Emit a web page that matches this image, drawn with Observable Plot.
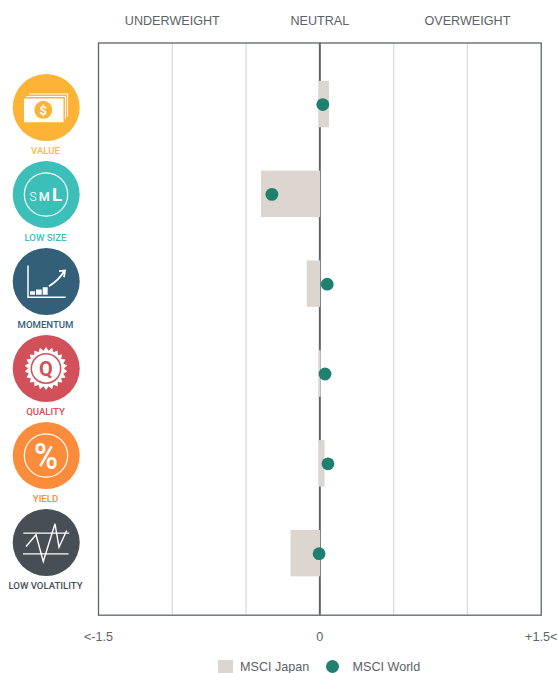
<!DOCTYPE html>
<html><head><meta charset="utf-8">
<script src="https://cdn.jsdelivr.net/npm/d3@7"></script>
<script src="https://cdn.jsdelivr.net/npm/@observablehq/plot@0.6"></script>
<style>
html,body{margin:0;padding:0;background:#fff;overflow:hidden}
#wrap{position:relative;width:558px;height:673px;font-family:"Liberation Sans",Arial,sans-serif;color:#5c6266}
#wrap svg{position:absolute;left:0;top:0;background:transparent}
#legend{position:absolute;left:0;top:658px;width:558px;height:15px;font-size:12.6px;line-height:18px;overflow:hidden}
#legend span{position:absolute;top:0}
#legend i{position:absolute;display:block}
</style></head><body>
<div id="wrap"><div id="main"></div><div id="icons"></div>
<div id="legend">
<i style="left:218px;top:2px;width:15px;height:15px;background:#dcd5d0"></i><span style="left:240px">MSCI Japan</span>
<i style="left:326px;top:2px;width:13px;height:13px;border-radius:50%;background:#1f8070"></i><span style="left:352.5px">MSCI World</span>
</div></div>
<script>
const factors = ["VALUE","LOW SIZE","MOMENTUM","QUALITY","YIELD","LOW VOLATILITY"];
const japan = [0.06,-0.39,-0.08,0.004,0.03,-0.19];
const world = [0.02,-0.325,0.05,0.035,0.055,-0.005];
const iconColors = ["#fdb335","#3cbfb9","#345f79","#d1505a","#fb8c3b","#474e55"];
const labelColors = ["#fdb94c","#3cbfb9","#345f79","#d1505a","#fb8c3b","#474e55"];
const gridTicks = [-1,-0.5,0.5,1];
const topTicks = new Map([[-1,"UNDERWEIGHT"],[0,"NEUTRAL"],[1,"OVERWEIGHT"]]);
const bottomTicks = new Map([[-1.5,"<-1.5"],[0,"0"],[1.5,"+1.5<"]]);

const rows = factors.map((f,i)=>({f,japan:japan[i],world:world[i]}));

const main = Plot.plot({
  width:558,height:673,
  marginLeft:98,marginRight:17.3,marginTop:42.5,marginBottom:58.3,
  style:{background:"transparent",fontFamily:"'Liberation Sans',Arial,sans-serif",fontSize:"12.6px",color:"#5c6266"},
  x:{domain:[-1.5,1.5]},
  y:{type:"band",domain:factors,paddingInner:0.5,paddingOuter:0.435,round:false},
  marks:[
    Plot.ruleX(gridTicks,{stroke:"#dcdcdc",strokeWidth:1.3}),
    Plot.ruleX([0],{stroke:"#5d6468",strokeWidth:2}),
    Plot.barX(rows,{x1:()=>0,x2:"japan",y:"f",fill:"#dcd5d0",stroke:"#dcd5d0",strokeWidth:1.5}),
    Plot.ruleX(rows.filter(d=>d.japan>=0),{x:()=>0,y:"f",stroke:"#b9b9b7",strokeWidth:1.3,dx:-0.3}),
    Plot.ruleX(rows.filter(d=>d.japan<0),{x:()=>0,y:"f",stroke:"#b9b9b7",strokeWidth:1.3,dx:0.8}),
    Plot.dot(rows,{x:"world",y:"f",r:6.4,fill:"#1f8070"}),
    Plot.frame({stroke:"#5d6468",strokeWidth:1.3}),
    Plot.axisX([-1,0,1],{anchor:"top",tickSize:0,tickPadding:18.5,tickFormat:d=>topTicks.get(d),label:null,fontSize:12.6,fill:"#5c6266"}),
    Plot.axisX([-1.5,0,1.5],{anchor:"bottom",tickSize:0,tickPadding:16.5,tickFormat:d=>bottomTicks.get(d),label:null,fontSize:12.6,fill:"#5c6266"}),
    Plot.axisY({ticks:[],label:null,tickSize:0})
  ]
});
document.getElementById("main").append(main);

function drawIcon(g,name){
  const W="#fff";
  const P=(d,o={})=>g.append("path").attr("d",d).attr("fill",o.fill??"none").attr("stroke",o.stroke??"none").attr("stroke-width",o.sw??0);
  if(name==="VALUE"){
    P("M-22 -9H17.5V14.7H-22Z",{fill:W});
    P("M-19.5 -11H19.5V11.5",{stroke:W,sw:1.1});
    P("M-17 -13.5H21.5V9",{stroke:W,sw:1.1});
    g.append("circle").attr("cx",-2.7).attr("cy",2.3).attr("r",9).attr("fill",iconColors[0]);
    g.append("text").attr("x",-2.7).attr("y",7).attr("text-anchor","middle").attr("font-size",13).attr("font-weight",700).attr("fill",W).attr("font-family","Roboto").text("$");
  }
  if(name==="LOW SIZE"){
    g.append("circle").attr("r",21.7).attr("fill","none").attr("stroke",W).attr("stroke-width",1.2);
    const t=(s,x,y,fs,w)=>g.append("text").attr("x",x).attr("y",y).attr("font-size",fs).attr("font-weight",w).attr("fill",W).attr("text-anchor","middle").attr("font-family","Roboto,sans-serif").text(s);
    t("S",-13,6,12,300);t("M",-1.7,6,12.5,500);t("L",11,6,18.5,700);
  }
  if(name==="MOMENTUM"){
    P("M-18 -16V15.7H19.7",{stroke:W,sw:1.5});
    P("M-16 13.3V9.7H-11V13.3ZM-10 13.3V8H-4.3V13.3ZM-3.3 13.3V5.7H1.7V13.3Z",{fill:W});
    P("M3 4.7C9 1 15 -5 18 -10",{stroke:W,sw:1.8});
    P("M13 -10.3L19 -11L18 -4.3",{stroke:W,sw:1.8});
  }
  if(name==="QUALITY"){
    const n=22,pts=[];
    for(let i=0;i<n*2;i++){const r=i%2?18:21.5,a=i*Math.PI/n;pts.push((r*Math.sin(a)).toFixed(2)+" "+(r*Math.cos(a)).toFixed(2));}
    P("M"+pts.join("L")+"Z",{fill:W});
    g.append("circle").attr("r",14.7).attr("fill","none").attr("stroke",iconColors[3]).attr("stroke-width",1.5);
    g.append("text").attr("y",7.5).attr("text-anchor","middle").attr("font-size",20).attr("font-weight",700).attr("fill",iconColors[3]).attr("font-family","Roboto").text("Q");
  }
  if(name==="YIELD"){
    g.append("circle").attr("r",21.7).attr("fill","none").attr("stroke",W).attr("stroke-width",1.2);
    g.append("text").attr("transform","scale(0.88,1)").attr("y",13.5).attr("text-anchor","middle").attr("font-size",37).attr("font-weight",500).attr("fill",W).attr("font-family","Roboto").text("%");
  }
  if(name==="LOW VOLATILITY"){
    P("M-22.7 -9.3H23.3M-23 11.3H22.5",{stroke:W,sw:1.3});
    P("M-20 4L-10 -7.7L-2.7 19L9 -18.7L13 4.7L20.7 -12",{stroke:W,sw:1.4});
  }
}

const iconRows = factors.map((f,i)=>({f,c:iconColors[i],l:labelColors[i]}));
const icons = Plot.plot({
  width:100,height:673,margin:0,
  style:{background:"transparent"},
  x:{type:"linear",domain:[0,100],range:[0,100],axis:null},
  y:{type:"point",domain:factors,range:[106.5,541.5],padding:0,axis:null},
  marks:[
    Plot.dot(iconRows,{x:()=>45.7,y:"f",r:33.5,fill:"c"}),
    (index,scales)=>{
      const root=d3.create("svg:g");
      for(const f of factors){
        const g=root.append("g").attr("transform",`translate(46,${scales.y(f)+0.5})`);
        drawIcon(g,f);
      }
      return root.node();
    },
    Plot.text(iconRows,{x:()=>45,y:"f",dy:43.5,text:"f",fill:"l",fontSize:9.6,fontWeight:500,fontFamily:"'Roboto',sans-serif"})
  ]
});
document.getElementById("icons").append(icons);
</script>
</body></html>
